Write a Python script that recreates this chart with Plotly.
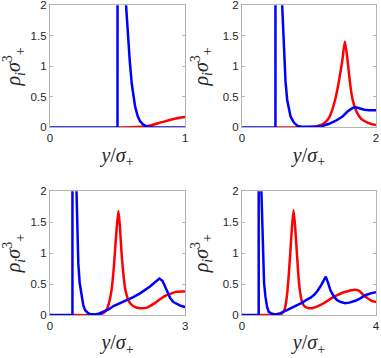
import plotly.graph_objects as go

# panel (a): y/sigma in [0, 1]
x_red_a = [0.5, 0.6, 0.7, 0.75, 0.8, 0.85, 0.9, 0.95, 1.0]
y_red_a = [0.0, 0.003, 0.015, 0.035, 0.07, 0.10, 0.13, 0.155, 0.17]
x_blue_a = [0.0, 0.4999, 0.5, 0.52, 0.545, 0.563, 0.575, 0.59, 0.605, 0.63, 0.65, 0.667, 0.69, 0.716, 0.76, 0.85, 1.0]
y_blue_a = [0.0, 0.0, 9.0, 4.2, 2.6, 2.0, 1.55, 1.1, 0.72, 0.34, 0.18, 0.10, 0.045, 0.016, 0.004, 0.0, 0.0]

# panel (b): y/sigma in [0, 2]
x_red_b = [0.5, 0.8, 1.0, 1.1, 1.2, 1.25, 1.3, 1.35, 1.4, 1.45, 1.5, 1.535, 1.57, 1.6, 1.625, 1.65, 1.7, 1.75, 1.8, 1.875, 1.95, 2.0]
y_red_b = [0.0, 0.0, 0.005, 0.015, 0.05, 0.09, 0.16, 0.30, 0.50, 0.78, 1.12, 1.41, 1.15, 0.85, 0.62, 0.46, 0.28, 0.18, 0.12, 0.08, 0.05, 0.04]
x_blue_b = [0.0, 0.4999, 0.5, 0.53, 0.57, 0.6, 0.625, 0.65, 0.675, 0.7, 0.725, 0.775, 0.825, 0.9, 1.0, 1.1, 1.2, 1.3, 1.4, 1.5, 1.575, 1.65, 1.7, 1.75, 1.825, 1.9, 2.0]
y_blue_b = [0.0, 0.0, 9.0, 4.0, 2.5, 2.0, 1.26, 0.75, 0.45, 0.28, 0.18, 0.08, 0.03, 0.01, 0.005, 0.01, 0.025, 0.06, 0.11, 0.18, 0.26, 0.32, 0.33, 0.31, 0.29, 0.28, 0.28]

# panel (c): y/sigma in [0, 3]
x_red_c = [0.5, 1.0, 1.11, 1.2, 1.26, 1.32, 1.37, 1.41, 1.44, 1.48, 1.52, 1.555, 1.59, 1.63, 1.67, 1.72, 1.78, 1.88, 2.0, 2.15, 2.3, 2.45, 2.59, 2.7, 2.78, 2.9, 3.0]
y_red_c = [0.0, 0.0, 0.01, 0.04, 0.09, 0.22, 0.42, 0.70, 0.99, 1.40, 1.68, 1.40, 0.99, 0.66, 0.42, 0.28, 0.19, 0.13, 0.11, 0.12, 0.18, 0.26, 0.32, 0.35, 0.37, 0.38, 0.38]
x_blue_c = [0.0, 0.4999, 0.5, 0.53, 0.56, 0.59, 0.63, 0.66, 0.7, 0.74, 0.78, 0.84, 0.89, 1.0, 1.1, 1.19, 1.3, 1.41, 1.55, 1.7, 1.85, 2.0, 2.1, 2.22, 2.33, 2.43, 2.5, 2.56, 2.62, 2.67, 2.74, 2.81, 2.9, 3.0]
y_blue_c = [0.0, 0.0, 9.0, 4.0, 2.6, 2.0, 0.83, 0.52, 0.30, 0.16, 0.08, 0.035, 0.016, 0.01, 0.025, 0.05, 0.09, 0.145, 0.19, 0.24, 0.29, 0.35, 0.40, 0.46, 0.53, 0.59, 0.55, 0.46, 0.36, 0.27, 0.21, 0.18, 0.15, 0.13]

# panel (d): y/sigma in [0, 4]
x_red_d = [0.5, 1.0, 1.14, 1.24, 1.3, 1.34, 1.39, 1.44, 1.49, 1.54, 1.59, 1.64, 1.69, 1.74, 1.8, 1.89, 2.0, 2.09, 2.25, 2.44, 2.64, 2.84, 3.0, 3.13, 3.26, 3.38, 3.5, 3.63, 3.73, 3.83, 3.92, 4.0]
y_red_d = [0.0, 0.0, 0.01, 0.05, 0.15, 0.30, 0.60, 0.99, 1.40, 1.69, 1.40, 0.99, 0.60, 0.35, 0.20, 0.13, 0.11, 0.11, 0.14, 0.19, 0.26, 0.32, 0.36, 0.38, 0.40, 0.41, 0.39, 0.32, 0.28, 0.24, 0.22, 0.21]
x_blue_d = [0.0, 0.4999, 0.5, 0.53, 0.55, 0.58, 0.63, 0.66, 0.7, 0.75, 0.8, 0.9, 1.0, 1.15, 1.34, 1.5, 1.64, 1.8, 1.94, 2.05, 2.14, 2.24, 2.34, 2.42, 2.5, 2.57, 2.64, 2.74, 2.84, 2.95, 3.08, 3.2, 3.38, 3.53, 3.68, 3.84, 4.0]
y_blue_d = [0.0, 0.0, 9.0, 4.0, 2.8, 2.0, 0.83, 0.52, 0.30, 0.13, 0.05, 0.02, 0.01, 0.03, 0.08, 0.12, 0.16, 0.20, 0.25, 0.28, 0.32, 0.38, 0.46, 0.55, 0.62, 0.52, 0.40, 0.30, 0.24, 0.21, 0.19, 0.20, 0.23, 0.27, 0.32, 0.35, 0.37]

panels = [
    (x_red_a, y_red_a, x_blue_a, y_blue_a, 1),
    (x_red_b, y_red_b, x_blue_b, y_blue_b, 2),
    (x_red_c, y_red_c, x_blue_c, y_blue_c, 3),
    (x_red_d, y_red_d, x_blue_d, y_blue_d, 4),
]

x_domains = [[0.131, 0.486], [0.635, 0.987], [0.131, 0.486], [0.635, 0.987]]
y_domains = [[0.644, 0.985], [0.644, 0.985], [0.120, 0.466], [0.120, 0.466]]

fig = go.Figure()
layout = {}
for i, (xr, yr, xb, yb, xmax) in enumerate(panels):
    n = "" if i == 0 else str(i + 1)
    fig.add_trace(go.Scatter(x=xr, y=yr, mode="lines", line=dict(color="#ff0000", width=2.5, shape="spline", smoothing=0.6),
                             xaxis="x" + n, yaxis="y" + n, showlegend=False))
    fig.add_trace(go.Scatter(x=xb, y=yb, mode="lines", line=dict(color="#0000ff", width=2.5),
                             xaxis="x" + n, yaxis="y" + n, showlegend=False))
    layout["xaxis" + n] = dict(
        domain=x_domains[i], anchor="y" + n, range=[0, xmax], tickvals=[0, xmax], automargin=False,
        ticklabeloverflow="allow",
        showgrid=False, zeroline=False, showline=True, mirror="ticks", linecolor="#b3b3b3", linewidth=1,
        ticks="inside", ticklen=3, tickcolor="#b3b3b3",
        tickfont=dict(family="Liberation Sans, Arial", size=11.5, color="#262626"),
        title=dict(text="<i>y</i>/<i>σ</i><sub>+</sub>", standoff=4,
                   font=dict(family="Liberation Serif, serif", size=20, color="#262626")),
    )
    layout["yaxis" + n] = dict(
        domain=y_domains[i], anchor="x" + n, range=[0, 2], tickvals=[0, 0.5, 1, 1.5, 2], automargin=False,
        ticktext=["0", "0.5", "1", "1.5", "2"], ticklabeloverflow="allow",
        showgrid=False, zeroline=False, showline=True, mirror="ticks", linecolor="#b3b3b3", linewidth=1,
        ticks="inside", ticklen=3, tickcolor="#b3b3b3",
        tickfont=dict(family="Liberation Sans, Arial", size=11.5, color="#262626"),
        title=dict(text="<i>ρ<sub>i</sub>σ</i><sup>3</sup><sub>+</sub>", standoff=8,
                   font=dict(family="Liberation Serif, serif", size=20, color="#262626")),
    )

fig.update_layout(
    width=381, height=358,
    margin=dict(l=0, r=0, t=0, b=0),
    plot_bgcolor="white", paper_bgcolor="white",
    **layout,
)

# the page body has a default margin; drop it so the figure fills the window
fig.write_html("out.html", config={"displayModeBar": False},
               post_script="document.body.style.margin='0';")
